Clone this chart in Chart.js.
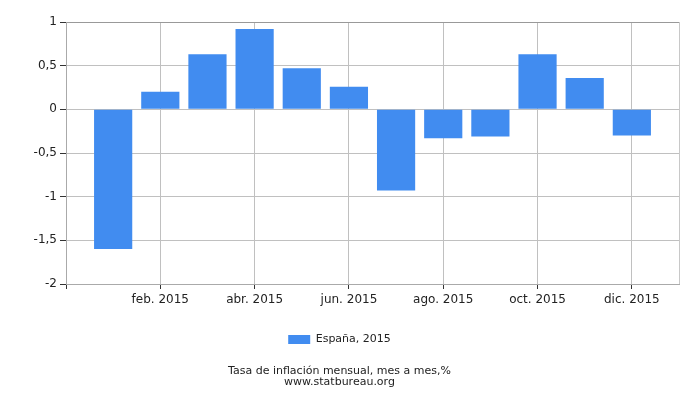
<!DOCTYPE html>
<html>
<head>
<meta charset="utf-8">
<script src="https://cdn.jsdelivr.net/npm/chart.js@4/dist/chart.umd.min.js"></script>
<style>
  html, body { margin: 0; padding: 0; background: #fff; }
  #wrap { width: 700px; height: 400px; }
</style>
</head>
<body>
<div id="wrap"><canvas id="chart"></canvas></div>
<script>
// Meses de 2015
const months = ['ene. 2015', 'feb. 2015', 'mar. 2015', 'abr. 2015', 'may. 2015', 'jun. 2015',
  'jul. 2015', 'ago. 2015', 'sep. 2015', 'oct. 2015', 'nov. 2015', 'dic. 2015'];

// Tasa de inflación mensual (%)
const inflation = [-1.6, 0.2, 0.63, 0.92, 0.47, 0.26, -0.93, -0.33, -0.31, 0.63, 0.36, -0.3];

const seriesLabel = 'España, 2015';
const titleLines = ['Tasa de inflación mensual, mes a mes,%', 'www.statbureau.org'];

// un hueco vacío a cada lado, como en el original
const labels = [''].concat(months, ['']);
const values = [null].concat(inflation, [null]);
const lastIdx = labels.length - 1;

const FONT = 'DejaVu Sans, sans-serif';

new Chart(document.getElementById('chart'), {
  type: 'bar',
  data: {
    labels: labels,
    datasets: [{
      label: seriesLabel,
      data: values,
      backgroundColor: '#418cf0',
      borderWidth: 0,
      barPercentage: 0.9,
      categoryPercentage: 0.9
    }]
  },
  options: {
    responsive: true,
    maintainAspectRatio: false,
    animation: false,
    layout: { padding: { left: 0, right: 21, top: 22, bottom: 0 } },
    plugins: {
      legend: {
        position: 'bottom',
        labels: {
          boxWidth: 22,
          boxHeight: 9,
          padding: 10,
          color: '#222',
          font: { family: FONT, size: 11 }
        }
      },
      title: {
        display: true,
        position: 'bottom',
        text: titleLines,
        color: '#222',
        font: { family: FONT, size: 11, weight: 'normal', lineHeight: 1.0 },
        padding: { top: 11, bottom: 12 }
      },
      tooltip: { enabled: false }
    },
    scales: {
      x: {
        type: 'category',
        offset: false,
        grid: {
          offset: false,
          drawTicks: true,
          tickLength: 5,
          color: (ctx) => {
            const i = ctx.index;
            if (i === 0) return '#aaaaaa';
            if (i === lastIdx) return '#c8c8c8';
            return i % 2 === 0 ? '#c0c0c0' : 'rgba(0,0,0,0)';
          },
          tickColor: (ctx) => {
            const i = ctx.index;
            if (i === lastIdx) return 'rgba(0,0,0,0)';
            return i % 2 === 0 ? '#333' : 'rgba(0,0,0,0)';
          }
        },
        border: { display: true, color: '#aaaaaa' },
        ticks: {
          autoSkip: false,
          maxRotation: 0,
          color: '#222',
          padding: 4,
          font: { family: FONT, size: 12 },
          callback: function (v, i) {
            return (i > 0 && i < lastIdx && i % 2 === 0) ? labels[i] : '';
          }
        },
        afterFit: (s) => { s.height = 40; }
      },
      y: {
        min: -2,
        max: 1,
        grid: {
          tickLength: 6,
          color: (ctx) => ctx.tick && ctx.tick.value === 1 ? '#999999' : '#c0c0c0',
          tickColor: '#333'
        },
        border: { display: true, color: '#aaaaaa' },
        ticks: {
          stepSize: 0.5,
          color: '#222',
          padding: 3,
          font: { family: FONT, size: 12 },
          callback: (v) => String(v).replace('.', ',')
        },
        afterFit: (s) => { s.width = 66; }
      }
    }
  }
});
</script>
</body>
</html>
